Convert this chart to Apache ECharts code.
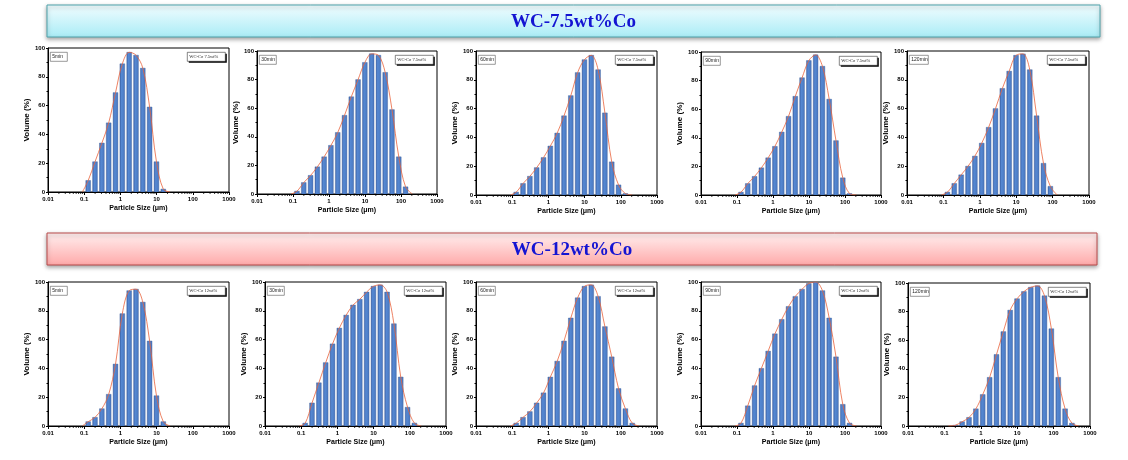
<!DOCTYPE html>
<html><head><meta charset="utf-8">
<script src="https://cdn.jsdelivr.net/npm/echarts@6/dist/echarts.min.js"></script>
<style>html,body{margin:0;padding:0;background:#fff}#c{width:1128px;height:460px}</style>
</head><body><div id="c"></div>
<script>
// ---------------- data ----------------
const sizeBins = [0.129,0.199,0.308,0.475,0.733,1.13,1.75,2.70,4.16,6.42,9.91,15.3,23.6,36.4,56.2,86.8,134,207,319,493];
const xTickLabels = ['0.01','0.1','1','10','100','1000'];
const timeLabels = ['5min','30min','60min','90min','120min'];
const groupTitles = ['WC-7.5wt%Co','WC-12wt%Co'];
const legendLabels = ['WC-Co 7.5wt%','WC-Co 12wt%'];

const co75_5min   = [8,21,34,48,69,89,97,95,86,59,21,2];
const co75_30min  = [2,8,13,19,26,34,43,55,68,80,92,98,97,85,59,26,5];
const co75_60min  = [2,8,13,19,26,34,43,55,69,85,94,97,87,57,23,7,1];
const co75_90min  = [2,8,13,19,26,34,44,55,69,82,94,98,90,67,38,12,1];
const co75_120min = [2,8,14,20,27,36,47,60,74,86,97,98,87,55,22,6];

const co12_5min   = [3,6,12,22,43,78,94,95,86,59,21,3];
const co12_30min  = [2,16,30,44,57,68,77,84,88,93,97,98,93,71,34,13,2];
const co12_60min  = [2,6,10,16,23,34,45,59,75,89,97,98,90,69,48,26,12,2];
const co12_90min  = [2,14,28,40,52,64,74,83,90,95,99,100,94,75,48,15,2];
const co12_120min = [0,0.5,3,6,12,22,34,50,66,81,89,94,97,98,91,68,34,12,2];

const panelsData = [co75_5min,co75_30min,co75_60min,co75_90min,co75_120min,
                    co12_5min,co12_30min,co12_60min,co12_90min,co12_120min];

// ---------------- layout ----------------
const grids = [
 [48,48,181,144],[257,51,180,143],[476,51,181,144],[701,52,180,143],[907,51,182,144],
 [48,282,181,144],[265,282,181,144],[476,282,181,144],[701,282,180,144],[908,283,182,143]
];
const BW = Math.pow(10, 0.066);
const minorTicks = [];
[0.01,0.1,1,10,100].forEach(d => { for (let k=2;k<=9;k++) minorTicks.push(+(d*k).toPrecision(3)); });

const chart = echarts.init(document.getElementById('c'), null, {renderer:'canvas'});
const FONT = 'Liberation Sans';
const barFill = new echarts.graphic.LinearGradient(0,0,1,0,[
  {offset:0,color:'#3f66ad'},{offset:0.35,color:'#5588d2'},{offset:1,color:'#4a78c0'}]);

const option = {
  animation:false,
  backgroundColor:'#fff',
  grid:[], xAxis:[], yAxis:[], series:[], graphic:[]
};

grids.forEach((g,i) => {
  option.grid.push({left:g[0], top:g[1], width:g[2], height:g[3], show:true,
    borderColor:'#000', borderWidth:1, backgroundColor:'transparent'});
  option.xAxis.push({type:'log', logBase:10, min:0.01, max:1000, gridIndex:i,
    name:'Particle Size (μm)', nameLocation:'middle', nameGap:13,
    nameTextStyle:{fontFamily:FONT, fontWeight:'bold', fontSize:7, color:'#000'},
    axisLine:{show:true, lineStyle:{color:'#000', width:1}},
    axisTick:{show:true, length:3, lineStyle:{color:'#000'}},
    minorTick:{show:false},
    splitLine:{show:false},
    axisLabel:{fontFamily:FONT, fontWeight:'bold', fontSize:6, color:'#000', margin:4,
      formatter: v => xTickLabels[Math.round(Math.log10(v))+2]}
  });
  option.yAxis.push({type:'value', min:0, max:100, interval:20, gridIndex:i,
    name:'Volume (%)', nameLocation:'middle', nameGap:15,
    nameTextStyle:{fontFamily:FONT, fontWeight:'bold', fontSize:8, color:'#000'},
    axisLine:{show:true, lineStyle:{color:'#000', width:1}},
    axisTick:{show:true, length:2, lineStyle:{color:'#000'}},
    minorTick:{show:true, splitNumber:2, length:1.5, lineStyle:{color:'#000'}},
    splitLine:{show:false},
    axisLabel:{fontFamily:FONT, fontWeight:'bold', fontSize:6, color:'#000', margin:3}
  });
  const vals = panelsData[i];
  const pts = vals.map((v,k) => [sizeBins[k], v]);
  // bars
  option.series.push({type:'custom', xAxisIndex:i, yAxisIndex:i, clip:true,
    data: pts.filter(p => p[1] > 0),
    renderItem:(params, api) => {
      const x = api.value(0), y = api.value(1);
      const a = api.coord([x/BW, y]);
      const b = api.coord([x*BW, 0]);
      return {type:'rect', shape:{x:a[0], y:a[1], width:b[0]-a[0], height:b[1]-a[1]},
        style:{fill:barFill, stroke:'#3a5a98', lineWidth:0.4}};
    }, z:2});
  // fitted curve
  let first = vals.findIndex(v => v > 0);
  const curve = [];
  if (first > 0) curve.push([sizeBins[first-1], 0]);
  else curve.push([sizeBins[0]/1.45, 0]);
  for (let k=first;k<vals.length;k++) curve.push([sizeBins[k], vals[k]]);
  curve.push([vals.length < sizeBins.length ? sizeBins[vals.length] : sizeBins[vals.length-1]*1.5, 0]);
  option.series.push({type:'line', xAxisIndex:i, yAxisIndex:i, data:curve, smooth:0.35,
    showSymbol:false, symbol:'none', lineStyle:{color:'#e8633c', width:0.8}, z:3});
  // minor ticks on log axis
  option.series.push({type:'custom', xAxisIndex:i, yAxisIndex:i, clip:false,
    data: minorTicks.map(t => [t,0]),
    renderItem:(params, api) => {
      const p = api.coord([api.value(0), 0]);
      return {type:'line', shape:{x1:p[0], y1:p[1], x2:p[0], y2:p[1]+2},
        style:{stroke:'#000', lineWidth:0.8}};
    }, z:4, silent:true});
  // label boxes
  const row = i < 5 ? 0 : 1;
  option.graphic.push({type:'group', left:g[0]+2, top:g[1]+4, children:[
    {type:'rect', shape:{x:0,y:0,width:i%5===4?19:17,height:9}, style:{fill:'#fff', stroke:'#555', lineWidth:0.6}},
    {type:'text', x:2, y:2, style:{text:timeLabels[i%5], font:'5px "Liberation Sans"', fill:'#222'}}
  ]});
  option.graphic.push({type:'group', left:g[0]+g[2]-42, top:g[1]+4, children:[
    {type:'rect', shape:{x:1.5,y:1.5,width:38,height:9}, style:{fill:'#000'}},
    {type:'rect', shape:{x:0,y:0,width:38,height:9}, style:{fill:'#fff', stroke:'#333', lineWidth:0.6}},
    {type:'text', x:2, y:2, style:{text:legendLabels[row], font:'4.5px "Liberation Serif"', fill:'#222'}}
  ]});
});

// banners
const banners = [
  {x:47, y:5, w:1053, h:32, top:'#f2fdff', bot:'#a9ecf6', stroke:'#4fa3ab'},
  {x:47, y:233, w:1050, h:32, top:'#fff0f0', bot:'#ffa9a9', stroke:'#b94a4a'}
];
banners.forEach((b,i) => {
  option.graphic.push({type:'rect', shape:{x:b.x, y:b.y, width:b.w, height:b.h},
    style:{fill:new echarts.graphic.LinearGradient(0,0,0,1,[{offset:0,color:b.top},{offset:1,color:b.bot}]),
      stroke:b.stroke, lineWidth:1, shadowBlur:4, shadowOffsetY:2, shadowColor:'rgba(0,0,0,0.35)'}, z:1});
  option.graphic.push({type:'text', x:b.x + b.w/2, y:b.y + b.h/2 + 1,
    style:{text:groupTitles[i], font:'bold 19px "Liberation Serif"', fill:'#1414d2',
      textAlign:'center', textVerticalAlign:'middle'}, z:2});
});

chart.setOption(option);
</script>
</body></html>
